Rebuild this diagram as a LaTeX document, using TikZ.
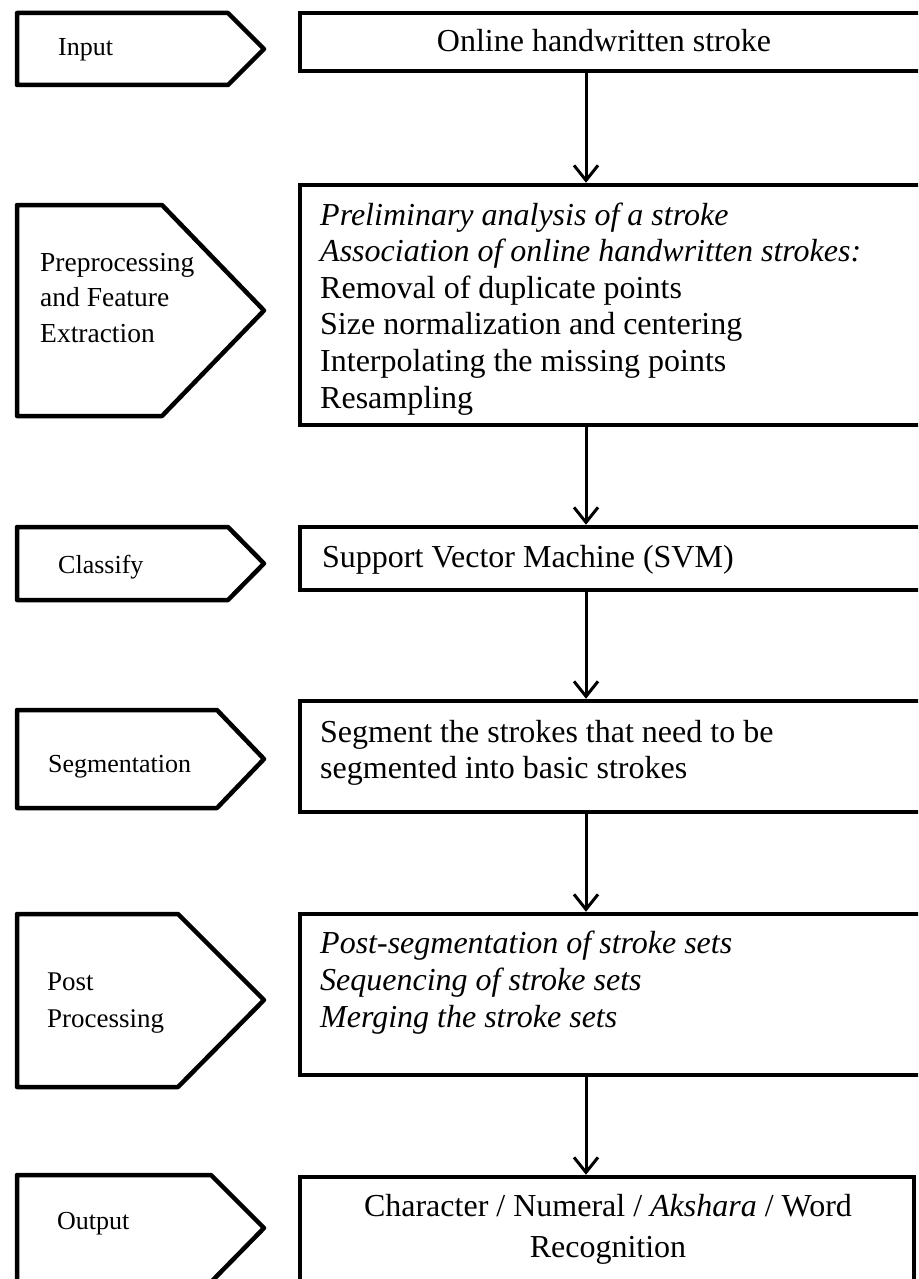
\documentclass[tikz,border=0pt]{standalone}
\usepackage{fontspec}
\setmainfont{Liberation Serif}
\usetikzlibrary{arrows.meta}
\newcommand\leftlines[1]{\begin{tabular}[t]{@{}l@{}}#1\end{tabular}}
\newcommand\midlines[1]{\begin{tabular}[t]{@{}c@{}}#1\end{tabular}}
\begin{document}
\begin{tikzpicture}[x=1pt,y=-1pt,
  box/.style={draw, line width=4.5pt, rectangle, inner sep=0pt, outer sep=2.25pt},
  tagline/.style={draw, line width=4.5pt, line join=round},
  maintext/.style={inner sep=0pt, anchor=base west, font=\fontsize{32}{36.6}\selectfont},
  lbl/.style={inner sep=0pt, anchor=base west, font=\fontsize{26}{35.5}\selectfont},
  flow/.style={line width=3pt, -{Straight Barb[length=15pt,width=24pt]}}]
\useasboundingbox (0,0) rectangle (918,1279);
\clip (0,0) rectangle (918,1279);

% process boxes
\node[box, minimum width=633pt, minimum height=58pt]  (b1) at (616.5,42) {};
\node[box, minimum width=633pt, minimum height=240pt] (b2) at (616.5,305) {};
\node[box, minimum width=633pt, minimum height=63pt]  (b3) at (616.5,558.5) {};
\node[box, minimum width=633pt, minimum height=111pt] (b4) at (616.5,756.5) {};
\node[box, minimum width=633pt, minimum height=161pt] (b5) at (616.5,994.5) {};
\node[box, minimum width=614pt, minimum height=126pt] (b6) at (607,1240) {};

% tag shapes on the left
\draw[tagline] (17,13)   -- (228,13)   -- (264,49)     -- (228,85)   -- (17,85)   -- cycle;
\draw[tagline] (17,205)  -- (162,205)  -- (264,310.5)  -- (162,416)  -- (17,416)  -- cycle;
\draw[tagline] (17,527)  -- (228,527)  -- (264,563.5)  -- (228,600)  -- (17,600)  -- cycle;
\draw[tagline] (17,710)  -- (217,710)  -- (264,759)    -- (217,808)  -- (17,808)  -- cycle;
\draw[tagline] (17,914)  -- (178,914)  -- (264,1000)   -- (178,1087) -- (17,1087) -- cycle;
\draw[tagline] (17,1175) -- (211,1175) -- (264,1228)   -- (211,1282) -- (17,1282) -- cycle;

% labels
\node[lbl] (l1) at (58,56) {Input};
\node[lbl, font=\fontsize{27.5}{35.5}\selectfont] (l2) at (40,271) {\leftlines{Preprocessing\\and Feature\\Extraction}};
\node[lbl] (l3) at (58,573) {Classify};
\node[lbl] (l4) at (48,772) {Segmentation};
\node[lbl, font=\fontsize{27}{37}\selectfont] (l5) at (47,990) {\leftlines{Post\\Processing}};
\node[lbl] (l6) at (57,1229) {Output};

% box texts
\node[maintext, anchor=base] (t1) at (604,52) {Online handwritten stroke};
\node[maintext] (t2) at (320,225) {\leftlines{\textit{Preliminary analysis of a stroke}\\
  \textit{Association of online handwritten strokes:}\\
  Removal of duplicate points\\
  Size normalization and centering\\
  Interpolating the missing points\\
  Resampling}};
\node[maintext] (t3) at (322,567) {Support Vector Machine (SVM)};
\node[maintext, font=\fontsize{32}{36}\selectfont] (t4) at (320,742) {\leftlines{Segment the strokes that need to be\\segmented into basic strokes}};
\node[maintext, font=\fontsize{32}{37}\selectfont] (t5) at (320,953) {\leftlines{\textit{Post-segmentation of stroke sets}\\
  \textit{Sequencing of stroke sets}\\
  \textit{Merging the stroke sets}}};
\node[maintext, anchor=base, font=\fontsize{32}{41}\selectfont] (t6) at (608,1216) {\midlines{Character / Numeral / \textit{Akshara} / Word\\Recognition}};

% connectors
\coordinate (ax) at (586,0);
\draw[flow] (ax |- b1.south) -- (ax |- b2.north);
\draw[flow] (ax |- b2.south) -- (ax |- b3.north);
\draw[flow] (ax |- b3.south) -- (ax |- b4.north);
\draw[flow] (ax |- b4.south) -- (ax |- b5.north);
\draw[flow] (ax |- b5.south) -- (ax |- b6.north);
\end{tikzpicture}
\end{document}
